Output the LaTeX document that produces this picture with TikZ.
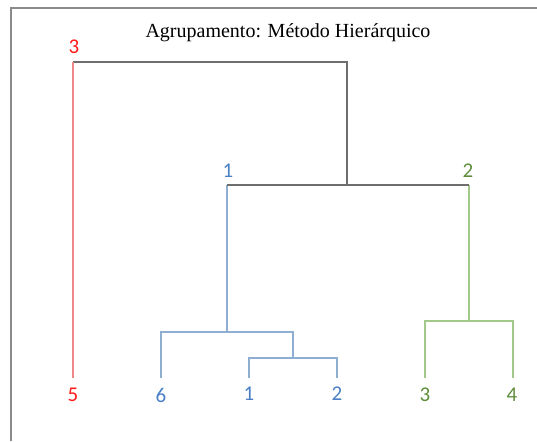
\documentclass[tikz,border=0pt]{standalone}
\usepackage{fontspec}
\setmainfont{Liberation Serif}
\newfontfamily\digitfont{Carlito}
\definecolor{redtxt}{HTML}{FF1A1A}
\definecolor{redln}{HTML}{EE8888}
\definecolor{bluetxt}{HTML}{4A7FC6}
\definecolor{blueln}{HTML}{8FAFD2}
\definecolor{greentxt}{HTML}{5E8E3A}
\definecolor{greenln}{HTML}{A3C98A}
\definecolor{grayln}{HTML}{6E6E6E}
\definecolor{framecol}{HTML}{8A8A8A}
\begin{document}
\begin{tikzpicture}[x=1pt,y=-1pt,
  lbl/.style={font=\digitfont\fontsize{21}{21}\selectfont, inner sep=0pt},
  redbr/.style={draw=redln, line width=1.6pt},
  bluebr/.style={draw=blueln, line width=2.2pt},
  greenbr/.style={draw=greenln, line width=2pt},
  graybr/.style={draw=grayln, line width=2.4pt},
  framel/.style={draw=framecol, line width=2.6pt}]
\useasboundingbox (0,0) rectangle (537,441);
% frame
\coordinate (fbl) at (11,441);
\coordinate (ftl) at (11,8);
\coordinate (ftr) at (537,8);
\draw[framel] (fbl) -- (ftl) -- (ftr);
% title
\node[font=\fontsize{20}{20}\selectfont, inner sep=0pt] (title) at (288,33) {Agrupamento: Método Hierárquico};
% leaf ends
\coordinate (e5) at (73,378);
\coordinate (e6) at (161,378);
\coordinate (e1) at (249,378);
\coordinate (e2) at (337,378);
\coordinate (e3) at (425,378);
\coordinate (e4) at (513,378);
% joins
\coordinate (j12) at (293,358);
\coordinate (j612) at (227,332);
\coordinate (j34) at (469,321);
\coordinate (jmid) at (347,185);
\coordinate (jtop) at (347,62);
\coordinate (topl) at (73,62);
\coordinate (midl) at (227,185);
\coordinate (midr) at (469,185);
% branches
\draw[bluebr] (e1) |- (j12) -| (e2);
\draw[bluebr] (e6) |- (j612) -| (j12);
\draw[bluebr] (j612) -- (midl);
\draw[greenbr] (e3) |- (j34) -| (e4);
\draw[greenbr] (j34) -- (midr);
\draw[graybr] (midl) -- (midr);
\draw[graybr] (jmid) -- (jtop) -- (topl);
\draw[redbr] (topl) -- (e5);
% labels
\node[lbl, text=redtxt] (n5) at (73,395) {5};
\node[lbl, text=bluetxt] (n6) at (161,395) {6};
\node[lbl, text=bluetxt] (n1) at (249,394) {1};
\node[lbl, text=bluetxt] (n2) at (337,394) {2};
\node[lbl, text=greentxt] (n3) at (425,395) {3};
\node[lbl, text=greentxt] (n4) at (512,395) {4};
\node[lbl, text=redtxt] (c3) at (74,47) {3};
\node[lbl, text=bluetxt] (c1) at (228,171) {1};
\node[lbl, text=greentxt] (c2) at (468,171) {2};
\end{tikzpicture}
\end{document}
